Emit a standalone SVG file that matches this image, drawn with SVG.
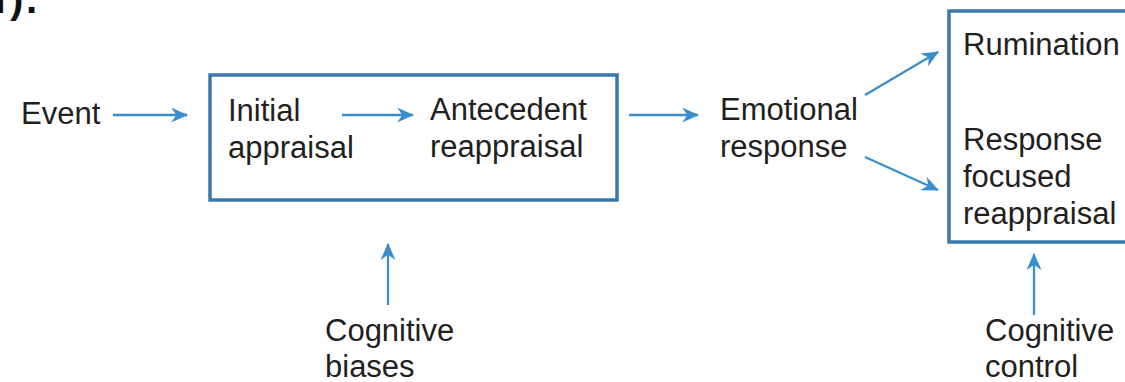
<svg xmlns="http://www.w3.org/2000/svg" width="1125" height="382" viewBox="0 0 1125 382">
  <defs>
    <marker id="ah" viewBox="0 0 16 14" refX="15" refY="7" markerWidth="17" markerHeight="15" markerUnits="userSpaceOnUse" orient="auto">
      <path d="M0,0 L16,7 L0,14 L5,7 z" fill="#3b8ece"/>
    </marker>
  </defs>
  <style>
    text { font-family: "Liberation Sans", Arial, Helvetica, sans-serif; font-size: 31px; fill: #231f20; }
    .box { fill: none; stroke: #3878aa; stroke-width: 3.5; }
    .conn line { stroke: #3b8ece; stroke-width: 2.3; marker-end: url(#ah); }
  </style>
  <rect width="1125" height="382" fill="#ffffff"/>

  <text x="-19 10 26" y="13" style="font-size:40px;font-weight:bold;fill:#111">n).</text>

  <g id="event"><text x="21" y="124">Event</text></g>

  <g id="appraisal-box">
    <rect class="box" x="210" y="75" width="407" height="125"/>
    <g id="initial-appraisal">
      <text x="228" y="121">Initial</text>
      <text x="228" y="158">appraisal</text>
    </g>
    <g id="antecedent-reappraisal">
      <text x="430" y="120">Antecedent</text>
      <text x="430" y="157">reappraisal</text>
    </g>
  </g>

  <g id="emotional-response">
    <text x="720" y="120">Emotional</text>
    <text x="720" y="157">response</text>
  </g>

  <g id="regulation-box">
    <rect class="box" x="949" y="11" width="190" height="231"/>
    <g id="rumination"><text x="963" y="55">Rumination</text></g>
    <g id="response-focused-reappraisal">
      <text x="963" y="150">Response</text>
      <text x="963" y="187">focused</text>
      <text x="963" y="224">reappraisal</text>
    </g>
  </g>

  <g id="cognitive-biases">
    <text x="325" y="341">Cognitive</text>
    <text x="325" y="377">biases</text>
  </g>

  <g id="cognitive-control">
    <text x="985" y="341">Cognitive</text>
    <text x="985" y="377">control</text>
  </g>

  <g class="conn" id="connectors">
    <line x1="113" y1="115" x2="187" y2="115"/>
    <line x1="342" y1="115" x2="413" y2="115"/>
    <line x1="629" y1="115" x2="698" y2="115"/>
    <line x1="865" y1="95" x2="938" y2="52"/>
    <line x1="865" y1="157" x2="938" y2="190"/>
    <line x1="388" y1="305" x2="388" y2="244"/>
    <line x1="1034" y1="315" x2="1034" y2="254"/>
  </g>
</svg>
